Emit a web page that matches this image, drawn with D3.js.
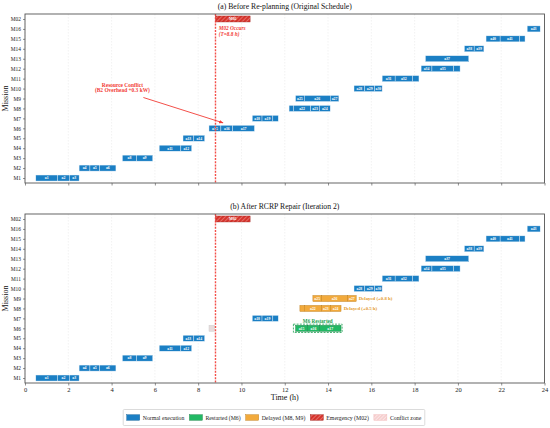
<!DOCTYPE html>
<html>
<head>
<meta charset="utf-8">
<script src="https://cdn.jsdelivr.net/npm/d3@7"></script>
<style>
body { margin: 0; background: #fff; }
text { font-family: "Liberation Serif", "DejaVu Serif", serif; }
</style>
</head>
<body>
<svg width="550" height="428"></svg>
<script>
const missions = ["M1", "M2", "M3", "M4", "M5", "M6", "M7", "M8", "M9", "M10", "M11", "M12", "M13", "M14", "M15", "M16", "M02"];
const xTicks = [0, 2, 4, 6, 8, 10, 12, 14, 16, 18, 20, 22, 24];

// [mission, task, start h, end h]
const normalTasks = [
    ["M1", "a1", 0.5, 1.5], ["M1", "a2", 1.5, 2.05], ["M1", "a3", 2.05, 2.5],
    ["M2", "a4", 2.5, 3.0], ["M2", "a5", 3.0, 3.45], ["M2", "a6", 3.45, 4.2],
    ["M3", "a8", 4.5, 5.15], ["M3", "a9", 5.15, 5.9],
    ["M4", "a11", 6.2, 7.2], ["M4", "a12", 7.2, 7.7],
    ["M5", "a13", 7.3, 7.8], ["M5", "a14", 7.8, 8.3],
    ["M7", "a18", 10.5, 10.95], ["M7", "a19", 10.95, 11.45], ["M7", "a20", 11.45, 11.7],
    ["M10", "a28", 15.2, 15.7], ["M10", "a29", 15.7, 16.15], ["M10", "a30", 16.15, 16.5],
    ["M11", "a31", 16.5, 17.1], ["M11", "a32", 17.1, 17.9], ["M11", "a33", 17.9, 18.2],
    ["M12", "a34", 18.3, 18.8], ["M12", "a35", 18.8, 19.8], ["M12", "a36", 19.8, 20.1],
    ["M13", "a37", 18.5, 20.5],
    ["M14", "a38", 20.3, 20.75], ["M14", "a39", 20.75, 21.2],
    ["M15", "a40", 21.3, 21.95], ["M15", "a41", 21.95, 22.85], ["M15", "a42", 22.85, 23.1],
    ["M16", "a43", 23.2, 23.8]
];
const m6Original = [["M6", "a15", 8.5, 9.05], ["M6", "a16", 9.05, 9.6], ["M6", "a17", 9.6, 10.6]];
const m8Original = [["M8", "a21", 12.2, 12.4], ["M8", "a22", 12.4, 13.2], ["M8", "a23", 13.2, 13.6], ["M8", "a24", 13.6, 14.1]];
const m9Original = [["M9", "a25", 12.5, 12.9], ["M9", "a26", 12.9, 14.1], ["M9", "a27", 14.1, 14.5]];
const m6Restarted = [["M6", "a15", 12.5, 13.05], ["M6", "a16", 13.05, 13.6], ["M6", "a17", 13.6, 14.6]];
const m8Delayed = [["M8", "a21", 12.7, 12.9], ["M8", "a22", 12.9, 13.7], ["M8", "a23", 13.7, 14.1], ["M8", "a24", 14.1, 14.6]];
const m9Delayed = [["M9", "a25", 13.3, 13.7], ["M9", "a26", 13.7, 14.9], ["M9", "a27", 14.9, 15.3]];
const emergencyTask = [["M02", "M02", 8.8, 10.4]];
const conflictZone = [["M6", 8.5, 8.75]];
const emergencyTime = 8.8;
const delayNotes = [["M8", "Delayed (+0.5 h)", 14.6], ["M9", "Delayed (+0.8 h)", 15.3]];
const restartBox = ["M6", 12.4, 14.65];
const conflictNote = { lines: ["Resource Conflict", "(B2 Overhead +0.3 kW)"], at: [4.5, 9.2], from: [5.47, 8.1], to: [9.15, 5.55] };
const emergencyNote = { lines: ["M02 Occurs", "(T=8.8 h)"], at: [8.95, 14.9] };
const titles = ["(a) Before Re-planning (Original Schedule)", "(b) After RCRP Repair (Iteration 2)"];
const legendItems = ["Normal execution", "Restarted (M6)", "Delayed (M8, M9)", "Emergency (M02)", "Conflict zone"];

const col = {
    normal: "#1b7fc4", normalEdge: "#0e5c93",
    restart: "#22b864", restartEdge: "#0f7a3c",
    delay: "#f2aa3c", delayEdge: "#b77511",
    emerg: "#d5332c", emergEdge: "#9c1e1a",
    line: "#f23c36", conflict: "#f6cfcf"
};

const svg = d3.select("svg");
const left = 25, right = 544.5;
const x = d3.scaleLinear().domain([0, 24]).range([left, right]);
const bh = 6;

const defs = svg.append("defs");
const hatch = defs.append("pattern").attr("id", "hatch").attr("patternUnits", "userSpaceOnUse")
    .attr("width", 3).attr("height", 3).attr("patternTransform", "rotate(45)");
hatch.append("rect").attr("width", 3).attr("height", 3).attr("fill", col.emerg);
hatch.append("line").attr("x1", 0).attr("y1", 0).attr("x2", 0).attr("y2", 3)
    .attr("stroke", "#f4a6a0").attr("stroke-width", 1);
const hatchPink = defs.append("pattern").attr("id", "hatchPink").attr("patternUnits", "userSpaceOnUse")
    .attr("width", 2.5).attr("height", 2.5).attr("patternTransform", "rotate(45)");
hatchPink.append("rect").attr("width", 2.5).attr("height", 2.5).attr("fill", col.conflict);
hatchPink.append("line").attr("x1", 0).attr("y1", 0).attr("x2", 0).attr("y2", 2.5)
    .attr("stroke", "#fff").attr("stroke-width", 0.8);
defs.append("marker").attr("id", "arrow").attr("viewBox", "0 0 10 10").attr("refX", 9).attr("refY", 5)
    .attr("markerWidth", 5).attr("markerHeight", 5).attr("orient", "auto")
    .append("path").attr("d", "M0,1 L10,5 L0,9 z").attr("fill", col.line);

function drawBars(g, y, tasks, fill, edge) {
    const sg = g.append("g");
    sg.selectAll("rect").data(tasks).join("rect")
        .attr("x", d => x(d[2]))
        .attr("y", d => y(missions.indexOf(d[0])) - bh / 2)
        .attr("width", d => x(d[3]) - x(d[2]))
        .attr("height", bh)
        .attr("fill", fill)
        .attr("stroke", edge)
        .attr("stroke-width", 0.4);
    sg.selectAll("text").data(tasks.filter(d => d[3] - d[2] >= 0.35)).join("text")
        .attr("x", d => x((d[2] + d[3]) / 2))
        .attr("y", d => y(missions.indexOf(d[0])))
        .attr("dy", "0.35em")
        .attr("text-anchor", "middle")
        .attr("font-size", 3.8)
        .attr("font-weight", "bold")
        .attr("fill", "#fff")
        .text(d => d[1]);
}

function drawPanel(top, bottom, title, showLabels, after) {
    const y = d3.scaleLinear().domain([-0.5, 16.5]).range([bottom, top]);
    const g = svg.append("g");

    // grid
    g.append("g").selectAll("line").data(xTicks).join("line")
        .attr("x1", d => x(d)).attr("x2", d => x(d))
        .attr("y1", top).attr("y2", bottom)
        .attr("stroke", "#e4e4e4").attr("stroke-width", 0.5).attr("stroke-dasharray", "1.5,1.5");

    const xa = g.append("g").attr("transform", `translate(0,${bottom})`)
        .call(d3.axisBottom(x).tickValues(xTicks).tickSize(2.5).tickPadding(2)
            .tickFormat(showLabels ? d3.format("d") : ""));
    xa.select(".domain").remove();
    xa.selectAll("line").attr("stroke", "#444").attr("stroke-width", 0.6);
    xa.selectAll("text").attr("font-size", 6.5).attr("fill", "#222").attr("font-family", "Liberation Serif, serif");

    const ya = g.append("g").attr("transform", `translate(${left},0)`)
        .call(d3.axisLeft(y).tickValues(d3.range(missions.length)).tickSize(2).tickPadding(2)
            .tickFormat(i => missions[i]));
    ya.select(".domain").remove();
    ya.selectAll("line").attr("stroke", "#444").attr("stroke-width", 0.6);
    ya.selectAll("text").attr("font-size", 5.4).attr("fill", "#222").attr("font-family", "Liberation Serif, serif");

    g.append("text").attr("x", (left + right) / 2).attr("y", top - 5)
        .attr("text-anchor", "middle").attr("font-size", 7.7).attr("fill", "#111").text(title);

    g.append("text").attr("transform", `translate(8,${(top + bottom) / 2}) rotate(-90)`)
        .attr("text-anchor", "middle").attr("font-size", 8).attr("fill", "#111").text("Mission");

    drawBars(g, y, normalTasks, col.normal, "#e8f2fa");

    if (!after) {
        drawBars(g, y, m6Original, col.normal, "#e8f2fa");
        drawBars(g, y, m8Original, col.normal, "#e8f2fa");
        drawBars(g, y, m9Original, col.normal, "#e8f2fa");
    } else {
        g.selectAll(".cz").data(conflictZone).join("rect")
            .attr("x", d => x(d[1]))
            .attr("y", d => y(missions.indexOf(d[0])) - bh / 2)
            .attr("width", d => x(d[2]) - x(d[1]))
            .attr("height", bh)
            .attr("fill", "#e6dcdc").attr("stroke", "#c8c8c8").attr("stroke-width", 0.4);
        drawBars(g, y, m8Delayed, col.delay, col.delayEdge);
        drawBars(g, y, m9Delayed, col.delay, col.delayEdge);
        drawBars(g, y, m6Restarted, col.restart, col.restartEdge);
        const ri = missions.indexOf(restartBox[0]);
        g.append("rect")
            .attr("x", x(restartBox[1])).attr("y", y(ri + 0.42))
            .attr("width", x(restartBox[2]) - x(restartBox[1]))
            .attr("height", y(ri - 0.42) - y(ri + 0.42))
            .attr("fill", "none").attr("stroke", "#1a9e4f").attr("stroke-width", 0.8)
            .attr("stroke-dasharray", "2,1.2");
        g.append("text").attr("x", x((restartBox[1] + restartBox[2]) / 2)).attr("y", y(ri + 0.55))
            .attr("text-anchor", "middle").attr("font-size", 5.1).attr("font-weight", "bold")
            .attr("fill", "#1a9e4f").text("M6 Restarted");
        g.selectAll(".dn").data(delayNotes).join("text")
            .attr("x", d => x(d[2] + 0.12))
            .attr("y", d => y(missions.indexOf(d[0])))
            .attr("dy", "0.35em")
            .attr("font-size", 4.8).attr("font-weight", "bold")
            .attr("fill", "#e49a2a").text(d => d[1]);
    }

    // emergency
    g.selectAll(".em").data(emergencyTask).join("rect")
        .attr("x", d => x(d[2]))
        .attr("y", d => y(missions.indexOf(d[0])) - bh / 2)
        .attr("width", d => x(d[3]) - x(d[2]))
        .attr("height", bh)
        .attr("fill", "url(#hatch)").attr("stroke", col.emergEdge).attr("stroke-width", 0.4);
    g.selectAll(".emt").data(emergencyTask).join("text")
        .attr("x", d => x((d[2] + d[3]) / 2))
        .attr("y", d => y(missions.indexOf(d[0])))
        .attr("dy", "0.35em").attr("text-anchor", "middle")
        .attr("font-size", 3.9).attr("font-weight", "bold").attr("fill", "#fff")
        .text(d => d[1]);

    g.append("line")
        .attr("x1", x(emergencyTime)).attr("x2", x(emergencyTime))
        .attr("y1", top).attr("y2", bottom)
        .attr("stroke", col.line).attr("stroke-width", 1.4).attr("stroke-dasharray", "2,1.2")
        .attr("opacity", 0.9);

    if (!after) {
        const et = g.append("text").attr("x", x(emergencyNote.at[0])).attr("y", y(emergencyNote.at[1]))
            .attr("font-size", 5.3).attr("font-weight", "bold").attr("font-style", "italic").attr("fill", col.line);
        emergencyNote.lines.forEach((l, i) => et.append("tspan").attr("x", x(emergencyNote.at[0])).attr("dy", i ? 5.8 : 0).text(l));

        const ct = g.append("text").attr("x", x(conflictNote.at[0])).attr("y", y(conflictNote.at[1]))
            .attr("text-anchor", "middle").attr("font-size", 5.4).attr("font-weight", "bold").attr("fill", col.line);
        conflictNote.lines.forEach((l, i) => ct.append("tspan").attr("x", x(conflictNote.at[0])).attr("dy", i ? 5.8 : 0).text(l));

        g.append("line")
            .attr("x1", x(conflictNote.from[0])).attr("y1", y(conflictNote.from[1]))
            .attr("x2", x(conflictNote.to[0])).attr("y2", y(conflictNote.to[1]))
            .attr("stroke", col.line).attr("stroke-width", 0.9).attr("marker-end", "url(#arrow)");
    }

    g.append("rect").attr("x", left).attr("y", top).attr("width", right - left).attr("height", bottom - top)
        .attr("fill", "none").attr("stroke", "#555").attr("stroke-width", 0.9);
}

drawPanel(14, 183, titles[0], false, false);
drawPanel(214, 383, titles[1], true, true);

svg.append("text").attr("x", (left + right) / 2).attr("y", 400)
    .attr("text-anchor", "middle").attr("font-size", 8).attr("fill", "#111").text("Time (h)");

// legend
const swatchFill = [col.normal, col.restart, col.delay, "url(#hatch)", "url(#hatchPink)"];
const swatchEdge = [col.normalEdge, col.restartEdge, col.delayEdge, col.emergEdge, "#f0b0b0"];
const lg = svg.append("g");
let cx = 0;
legendItems.forEach((name, i) => {
    lg.append("rect").attr("x", cx).attr("y", -2.8).attr("width", 13).attr("height", 5.6)
        .attr("fill", swatchFill[i]).attr("stroke", swatchEdge[i]).attr("stroke-width", 0.4);
    const t = lg.append("text").attr("x", cx + 16).attr("y", 0).attr("dy", "0.35em")
        .attr("font-size", 5.8).attr("fill", "#222").text(name);
    cx += 16 + t.node().getComputedTextLength() + 5;
});
const lw = cx - 5;
const lx = 274 - lw / 2;
lg.attr("transform", `translate(${lx},417.5)`);
lg.insert("rect", ":first-child").attr("x", -3.5).attr("y", -8).attr("width", lw + 7).attr("height", 16)
    .attr("fill", "#fff").attr("stroke", "#ccc").attr("stroke-width", 0.7).attr("rx", 1);
</script>
</body>
</html>
